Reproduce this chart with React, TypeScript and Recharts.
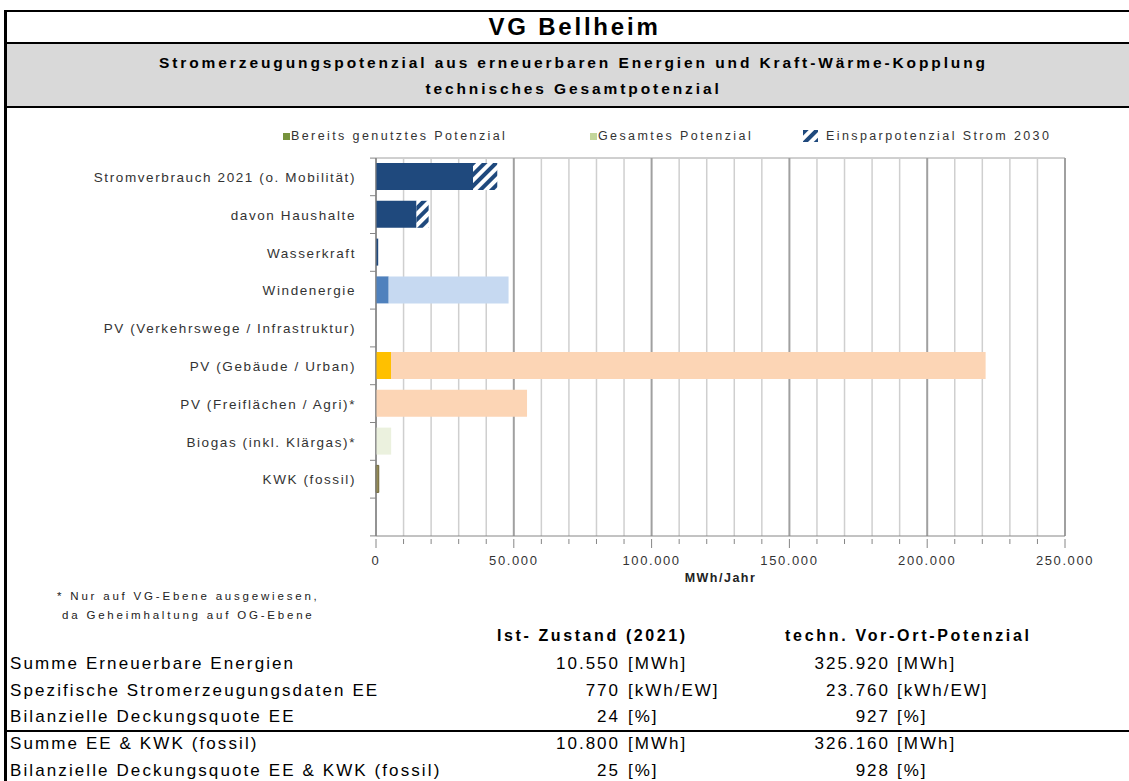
import React from "react";
import { BarChart, Bar, XAxis, YAxis, CartesianGrid, Cell, Legend } from "recharts";

// Kategorien (Reihenfolge von oben nach unten)
const CATEGORIES = [
  "Stromverbrauch 2021 (o. Mobilität)",
  "davon Haushalte",
  "Wasserkraft",
  "Windenergie",
  "PV (Verkehrswege / Infrastruktur)",
  "PV (Gebäude / Urban)",
  "PV (Freiflächen / Agri)*",
  "Biogas (inkl. Klärgas)*",
  "KWK (fossil)",
  "",
];

// MWh/Jahr
const GENUTZT = [35200, 14700, 800, 4600, 0, 5450, 0, 0, 1000, 0];
const GESAMT = [0, 0, 800, 48100, 0, 221200, 54800, 5500, 1000, 0];
const EINSPARUNG = [8800, 4400, 0, 0, 0, 0, 0, 0, 0, 0];

const GENUTZT_COLORS = ["#1F497D", "#1F497D", "#1F497D", "#4F81BD", "#4F81BD", "#FFC000", "#FFC000", "#9BBB59", "#948A54", "#FFFFFF"];
const REST_COLORS = ["#1F497D", "#1F497D", "#1F497D", "#C6D9F1", "#C6D9F1", "#FCD5B5", "#FCD5B5", "#EBF1DE", "#948A54", "#FFFFFF"];

const X_TICKS = [
  0, 10000, 20000, 30000, 40000, 50000, 60000, 70000, 80000, 90000, 100000, 110000, 120000,
  130000, 140000, 150000, 160000, 170000, 180000, 190000, 200000, 210000, 220000, 230000, 240000, 250000,
];

const LEGEND_LABELS = ["Bereits genutztes Potenzial", "Gesamtes Potenzial", "Einsparpotenzial Strom 2030"];

const SUMMARY_LABELS = [
  "Summe Erneuerbare Energien",
  "Spezifische Stromerzeugungsdaten EE",
  "Bilanzielle Deckungsquote EE",
  "Summe EE & KWK (fossil)",
  "Bilanzielle Deckungsquote EE & KWK (fossil)",
];
const IST_VALUES = ["10.550", "770", "24", "10.800", "25"];
const POT_VALUES = ["325.920", "23.760", "927", "326.160", "928"];
const UNITS = ["[MWh]", "[kWh/EW]", "[%]", "[MWh]", "[%]"];

const FONT = '"Liberation Sans", Arial, sans-serif';
const PLOT_LEFT = 376;
const BAND = 37.6;

const data = CATEGORIES.map((name, i) => ({
  name,
  genutzt: GENUTZT[i],
  rest: Math.max(0, GESAMT[i] - GENUTZT[i]),
  einsparung: EINSPARUNG[i],
}));

const formatDe = (v: number) => v.toLocaleString("de-DE");

// Kategorie-Beschriftung + Teilstriche an den Bandgrenzen
const YTick = ({ y, payload, index }: any) => (
  <g>
    <text
      x={PLOT_LEFT - 20}
      y={y}
      dy={5}
      textAnchor="end"
      fill="#333"
      style={{ fontFamily: FONT, fontSize: 13.5, letterSpacing: 1.6 }}
    >
      {payload.value}
    </text>
    <line x1={PLOT_LEFT - 6} x2={PLOT_LEFT} y1={y + BAND / 2} y2={y + BAND / 2} stroke="#868686" />
    {index === 0 && (
      <line x1={PLOT_LEFT - 6} x2={PLOT_LEFT} y1={y - BAND / 2} y2={y - BAND / 2} stroke="#868686" />
    )}
  </g>
);

const XTick = ({ x, y, payload }: any) => {
  const major = payload.value % 50000 === 0;
  return (
    <g>
      <line x1={x} x2={x} y1={y - 5} y2={major ? y + 4 : y} stroke="#868686" />
      {major && (
        <text
          x={x}
          y={y + 21}
          textAnchor="middle"
          fill="#333"
          style={{ fontFamily: FONT, fontSize: 13, letterSpacing: 1.6 }}
        >
          {formatDe(payload.value)}
        </text>
      )}
    </g>
  );
};

const GridLine = (props: any) => {
  const major = props.index % 5 === 0;
  return (
    <line
      key={`v-${props.index}`}
      x1={props.x1}
      x2={props.x2}
      y1={props.y1}
      y2={props.y2}
      stroke={major ? "#A0A0A0" : "#CFCFCF"}
      strokeWidth={major ? 2 : 1.5}
    />
  );
};

const LEGEND_LEFT = [283, 590, 803];

const renderLegend = () => (
  <div style={{ position: "relative", width: 1129, height: 18, fontFamily: FONT, fontSize: 12.5, color: "#333" }}>
    {LEGEND_LABELS.map((label, i) => (
      <div
        key={label}
        style={{ position: "absolute", left: LEGEND_LEFT[i], top: 0, display: "flex", alignItems: "center", height: 18, letterSpacing: 2.4 }}
      >
        {i < 2 ? (
          <span style={{ display: "inline-block", width: 7, height: 7, background: i === 0 ? "#77933C" : "#C3D69B", marginRight: 1 }} />
        ) : (
          <svg width={15} height={12} style={{ marginRight: 8 }}>
            <rect width={15} height={12} fill="url(#hatch)" />
          </svg>
        )}
        <span>{label}</span>
      </div>
    ))}
  </div>
);

const textBase: React.CSSProperties = { position: "absolute", fontFamily: FONT, color: "#000", whiteSpace: "nowrap" };

export default function App() {
  return (
    <div style={{ position: "absolute", left: 0, top: 0, width: 1129, height: 781, background: "#fff", overflow: "hidden" }}>
      {/* Muster fuer Einsparpotenzial */}
      <svg width={0} height={0} style={{ position: "absolute" }}>
        <defs>
          <pattern id="hatch" patternUnits="userSpaceOnUse" width={8} height={8} patternTransform="rotate(45)">
            <rect width={8} height={8} fill="#fff" />
            <rect width={4} height={8} fill="#1F497D" />
          </pattern>
        </defs>
      </svg>

      {/* Rahmen und Kopf */}
      <div style={{ position: "absolute", left: 4, top: 10, width: 1130, height: 2, background: "#000" }} />
      <div style={{ position: "absolute", left: 4, top: 10, width: 3, height: 771, background: "#000" }} />
      <div style={{ position: "absolute", left: 7, top: 42, width: 1130, height: 62, background: "#D9D9D9", borderTop: "2px solid #000", borderBottom: "2px solid #000" }} />
      <div style={{ ...textBase, left: 10, width: 1129, top: 12, height: 30, lineHeight: "30px", textAlign: "center", fontSize: 24, fontWeight: 700, letterSpacing: 2.8 }}>
        VG Bellheim
      </div>
      <div style={{ ...textBase, left: 9, width: 1129, top: 50, height: 26, lineHeight: "26px", textAlign: "center", fontSize: 15.5, fontWeight: 700, letterSpacing: 2.9 }}>
        Stromerzeugungspotenzial aus erneuerbaren Energien und Kraft-Wärme-Kopplung
      </div>
      <div style={{ ...textBase, left: 9, width: 1129, top: 76, height: 26, lineHeight: "26px", textAlign: "center", fontSize: 15.5, fontWeight: 700, letterSpacing: 2.9 }}>
        technisches Gesamtpotenzial
      </div>

      {/* Diagramm */}
      <div style={{ position: "absolute", left: 0, top: 0 }}>
        <BarChart
          width={1129}
          height={600}
          data={data}
          layout="vertical"
          margin={{ top: 158, right: 64, left: 0, bottom: 34 }}
          barSize={27}
        >
          <CartesianGrid
            horizontal={true}
            vertical={GridLine}
            horizontalCoordinatesGenerator={({ offset }: any) => [offset.top]}
            stroke="#A0A0A0"
          />
          <XAxis
            type="number"
            domain={[0, 250000]}
            ticks={X_TICKS}
            interval={0}
            tick={<XTick />}
            tickLine={false}
            axisLine={{ stroke: "#868686" }}
            height={30}
            label={{ value: "MWh/Jahr", position: "bottom", offset: 7, style: { fontFamily: FONT, fontSize: 12.5, fontWeight: 700, fill: "#222", letterSpacing: 1.5 } }}
          />
          <YAxis
            type="category"
            dataKey="name"
            width={PLOT_LEFT}
            interval={0}
            tick={<YTick />}
            tickLine={false}
            axisLine={{ stroke: "#868686" }}
          />
          <Legend
            layout="horizontal"
            verticalAlign="middle"
            align="center"
            content={renderLegend}
            wrapperStyle={{ position: "absolute", top: 127, left: 0, width: 1129 }}
          />
          <Bar dataKey="genutzt" stackId="a" isAnimationActive={false}>
            {data.map((d, i) => (
              <Cell key={`g-${i}`} fill={GENUTZT_COLORS[i]} stroke={i === 8 ? "#6E6639" : "none"} />
            ))}
          </Bar>
          <Bar dataKey="rest" stackId="a" isAnimationActive={false}>
            {data.map((d, i) => (
              <Cell key={`r-${i}`} fill={REST_COLORS[i]} />
            ))}
          </Bar>
          <Bar dataKey="einsparung" stackId="a" fill="url(#hatch)" isAnimationActive={false} />
        </BarChart>
      </div>

      {/* Fussnote */}
      <div style={{ ...textBase, left: 57, top: 590, fontSize: 11.5, letterSpacing: 2.8, color: "#222" }}>* Nur auf VG-Ebene ausgewiesen,</div>
      <div style={{ ...textBase, left: 62, top: 609, fontSize: 11.5, letterSpacing: 2.8, color: "#222" }}>da Geheimhaltung auf OG-Ebene</div>

      {/* Kennzahlen */}
      <div style={{ ...textBase, left: 497, top: 627, fontSize: 16, fontWeight: 700, letterSpacing: 2.6 }}>Ist- Zustand (2021)</div>
      <div style={{ ...textBase, left: 785, top: 627, fontSize: 16, fontWeight: 700, letterSpacing: 2.7 }}>techn. Vor-Ort-Potenzial</div>
      <div style={{ position: "absolute", left: 4, top: 730, width: 1130, height: 2, background: "#000" }} />
      {SUMMARY_LABELS.map((label, i) => {
        const top = 654 + i * 26.7;
        return (
          <React.Fragment key={label}>
            <div style={{ ...textBase, left: 10, top, fontSize: 17, letterSpacing: 2.1 }}>{label}</div>
            <div style={{ ...textBase, right: 1129 - 620, top, fontSize: 17, letterSpacing: 2, textAlign: "right" }}>{IST_VALUES[i]}</div>
            <div style={{ ...textBase, left: 628, top, fontSize: 17, letterSpacing: 2 }}>{UNITS[i]}</div>
            <div style={{ ...textBase, right: 1129 - 890, top, fontSize: 17, letterSpacing: 2, textAlign: "right" }}>{POT_VALUES[i]}</div>
            <div style={{ ...textBase, left: 897, top, fontSize: 17, letterSpacing: 2 }}>{UNITS[i]}</div>
          </React.Fragment>
        );
      })}
    </div>
  );
}
